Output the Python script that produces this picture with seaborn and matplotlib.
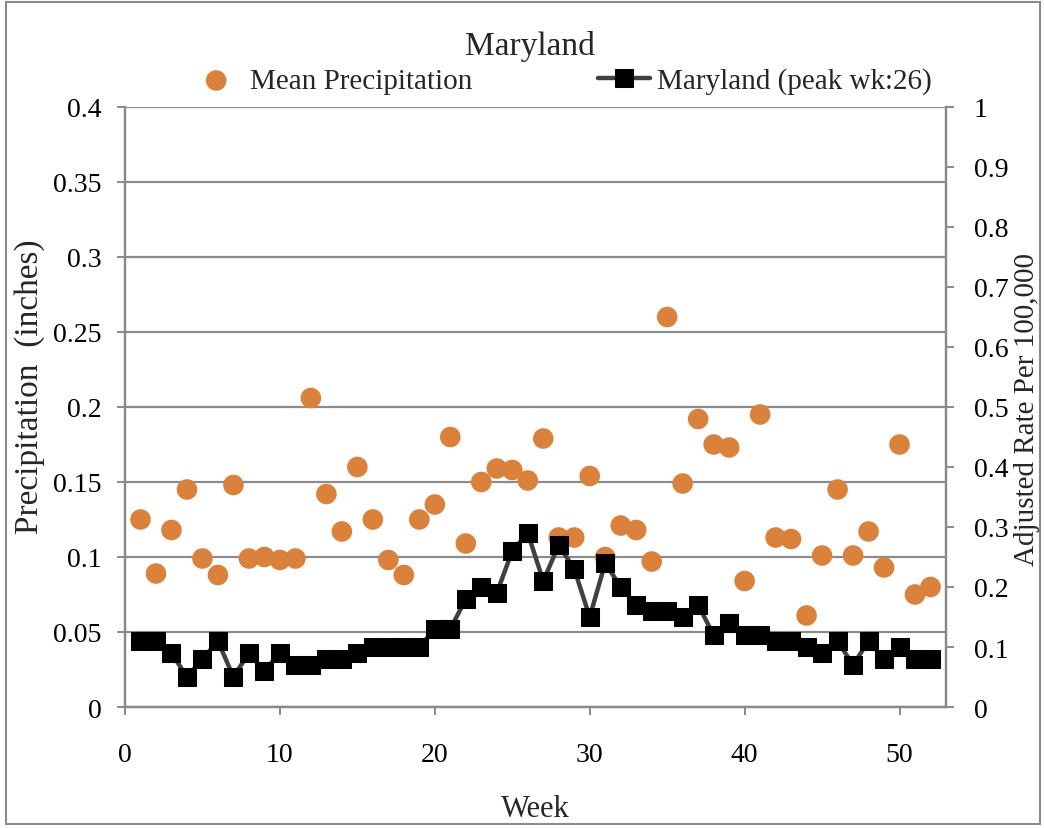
import matplotlib
matplotlib.use("Agg")
import matplotlib.pyplot as plt
from matplotlib.ticker import FuncFormatter, MultipleLocator
from matplotlib.patches import Rectangle
import seaborn as sns
import pandas as pd
import numpy as np

# Weekly data
weeks = list(range(1, 53))
mean_precip = [0.125, 0.089, 0.118, 0.145, 0.099, 0.088, 0.148, 0.099, 0.100, 0.098,
               0.099, 0.206, 0.142, 0.117, 0.160, 0.125, 0.098, 0.088, 0.125, 0.135,
               0.180, 0.109, 0.150, 0.159, 0.158, 0.151, 0.179, 0.113, 0.113, 0.154,
               0.100, 0.121, 0.118, 0.097, 0.260, 0.149, 0.192, 0.175, 0.173, 0.084,
               0.195, 0.113, 0.112, 0.061, 0.101, 0.145, 0.101, 0.117, 0.093, 0.175,
               0.075, 0.080]
adjusted_rate = [0.11, 0.11, 0.09, 0.05, 0.08, 0.11, 0.05, 0.09, 0.06, 0.09,
                 0.07, 0.07, 0.08, 0.08, 0.09, 0.10, 0.10, 0.10, 0.10, 0.13,
                 0.13, 0.18, 0.20, 0.19, 0.26, 0.29, 0.21, 0.27, 0.23, 0.15,
                 0.24, 0.20, 0.17, 0.16, 0.16, 0.15, 0.17, 0.12, 0.14, 0.12,
                 0.12, 0.11, 0.11, 0.10, 0.09, 0.11, 0.07, 0.11, 0.08, 0.10,
                 0.08, 0.08]

precip_label = "Mean Precipitation"
rate_label = "Maryland (peak wk:26)"

df = pd.DataFrame({"Week": weeks, "Precip": mean_precip, "Rate": adjusted_rate})

sns.set_style("white")
plt.rcParams["font.family"] = ["Liberation Serif", "DejaVu Serif"]

ORANGE = "#DA823C"
GRID = "#8C8C8C"
SPINE = "#898989"

fig = plt.figure(figsize=(10.44, 8.29), dpi=100)
ax = fig.add_axes([125 / 1044, 1 - 708 / 829, (946 - 125) / 1044, (708 - 108) / 829])
ax2 = ax.twinx()

sns.scatterplot(data=df, x="Week", y="Precip", ax=ax, color=ORANGE, s=220,
                edgecolor="none", linewidth=0, label=precip_label, legend=False, zorder=3)
sns.lineplot(data=df, x="Week", y="Rate", ax=ax2, color="#404040", linewidth=3.2,
             marker="s", markersize=13.5, markerfacecolor="black", markeredgecolor="black",
             label=rate_label, legend=False, zorder=4)

ax.set_xlim(0, 53)
ax.set_ylim(0, 0.4)
ax2.set_ylim(0, 1)
ax.xaxis.set_major_locator(MultipleLocator(10))
ax.yaxis.set_major_locator(MultipleLocator(0.05))
ax2.yaxis.set_major_locator(MultipleLocator(0.1))
fmt = FuncFormatter(lambda v, p: f"{v:.2f}".rstrip("0").rstrip(".") if v else "0")
ax.yaxis.set_major_formatter(fmt)
ax2.yaxis.set_major_formatter(fmt)

ax.grid(axis="y", color=GRID, linewidth=1.6)
ax.grid(axis="x", visible=False)
ax2.grid(False)
ax.set_axisbelow(True)

for a in (ax, ax2):
    for side, sp in a.spines.items():
        sp.set_color(SPINE)
        sp.set_linewidth(1.6)
    a.spines["top"].set_visible(False)

ax.tick_params(axis="both", which="major", labelsize=20, colors=SPINE, labelcolor="black",
               length=6, width=1.4, direction="out")
ax.tick_params(axis="y", pad=11, left=True)
ax.tick_params(axis="x", pad=19, bottom=True)
ax2.tick_params(axis="y", labelsize=20, colors=SPINE, labelcolor="black",
                length=6, width=1.4, direction="out", pad=14, right=True)

ax.set_xlabel("Week", fontsize=22)
ax.set_ylabel("Precipitation  (inches)", fontsize=24)
ax2.set_ylabel("Adjusted Rate Per 100,000", fontsize=21)
ax.xaxis.set_label_coords(0.5, -0.145)
ax.yaxis.set_label_coords(-0.098, 0.535)
ax2.yaxis.set_label_coords(1.083, 0.497)

fig.text(530 / 1044, 1 - 47 / 829, "Maryland", fontsize=24, ha="center", va="center")

h1, l1 = ax.get_legend_handles_labels()
h2, l2 = ax2.get_legend_handles_labels()
fig.legend(h1 + h2, l1 + l2, loc="center", bbox_to_anchor=(561 / 1044, 1 - 82 / 829),
           ncol=2, frameon=False, fontsize=21, handlelength=1.8, handletextpad=0.25,
           columnspacing=4.3, borderpad=0)

fig.patches.append(Rectangle((6 / 1044, 4 / 829), 1034 / 1044, 822 / 829,
                             transform=fig.transFigure, fill=False,
                             edgecolor="#8C8C8C", linewidth=1.5))

fig.savefig("out.png", dpi=100)
